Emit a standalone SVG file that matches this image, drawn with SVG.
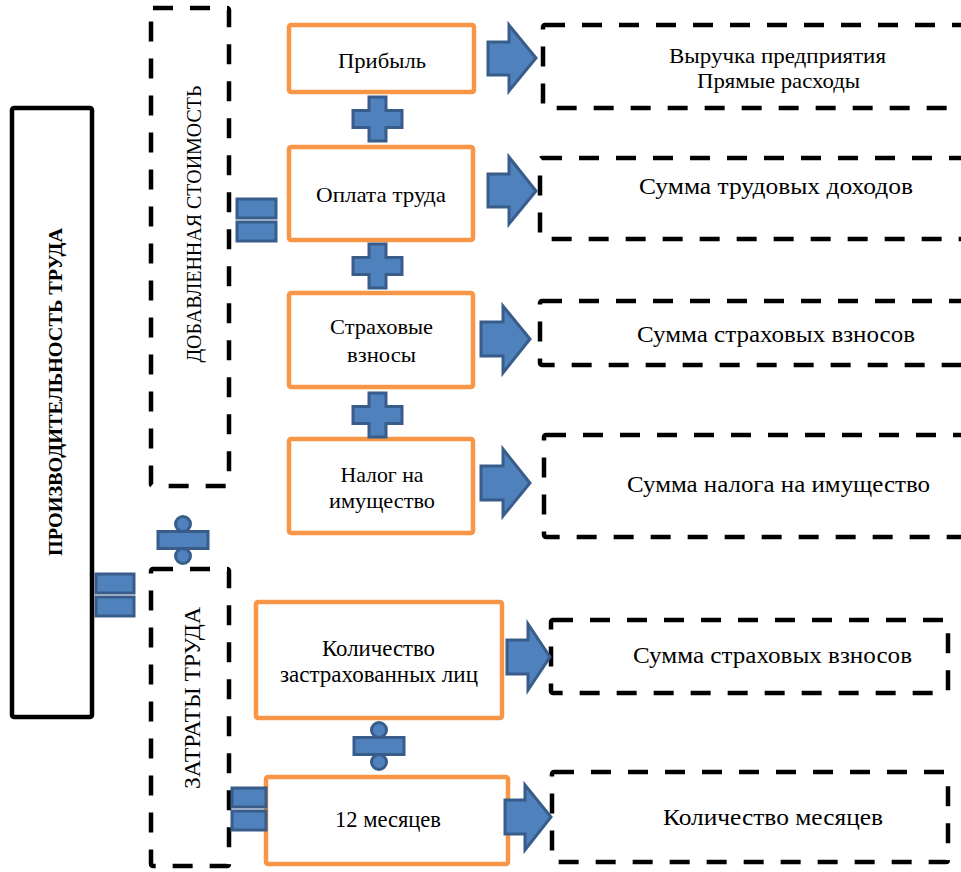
<svg xmlns="http://www.w3.org/2000/svg" width="961" height="872" viewBox="0 0 961 872">
<style>
.main{fill:#fff;stroke:#000;stroke-width:4.5}
.dash{fill:none;stroke:#000;stroke-width:4.5;stroke-dasharray:20 17}
.ob{fill:#fff;stroke:#F79646;stroke-width:4.5}
.bl{fill:#4F81BD;stroke:#385D8A;stroke-width:3}
.t{font-family:"Liberation Serif","Times New Roman",serif;fill:#000;text-anchor:middle}
</style>
<defs>
<path id="plus" class="bl" d="M-8.5,-22 H8.5 V-8.5 H24.5 V8.5 H8.5 V22 H-8.5 V8.5 H-24.5 V-8.5 H-8.5 Z"/>
<g id="div">
<rect class="bl" x="-25" y="-8.5" width="50" height="17"/>
<circle class="bl" cx="0" cy="-16" r="7.5"/>
<circle class="bl" cx="0" cy="16" r="7.5"/>
</g>
</defs>
<rect width="961" height="872" fill="#fff"/>

<g id="productivity">
<rect class="main" x="12" y="108" width="80" height="609" rx="2"/>
<text class="t" transform="translate(62,392) rotate(-90)" font-size="19" font-weight="bold" textLength="328" lengthAdjust="spacingAndGlyphs">ПРОИЗВОДИТЕЛЬНОСТЬ ТРУДА</text>
</g>

<g id="added-value">
<rect class="dash" x="151" y="8" width="78" height="478" rx="2"/>
<text class="t" transform="translate(201,224) rotate(-90)" font-size="21" textLength="277" lengthAdjust="spacingAndGlyphs">ДОБАВЛЕННАЯ СТОИМОСТЬ</text>
</g>

<g id="labor-costs">
<rect class="dash" x="151" y="569" width="78" height="297" rx="2"/>
<text class="t" transform="translate(200,698) rotate(-90)" font-size="23" textLength="182" lengthAdjust="spacingAndGlyphs">ЗАТРАТЫ ТРУДА</text>
</g>

<g id="profit">
<rect class="ob" x="289" y="25" width="185" height="67" rx="2"/>
<text class="t" x="382" y="68" font-size="22" textLength="88" lengthAdjust="spacingAndGlyphs">Прибыль</text>
</g>
<g id="wages">
<rect class="ob" x="289" y="147" width="184" height="93" rx="2"/>
<text class="t" x="381" y="202" font-size="22" textLength="130" lengthAdjust="spacingAndGlyphs">Оплата труда</text>
</g>
<g id="insurance">
<rect class="ob" x="289" y="293" width="184" height="94" rx="2"/>
<text class="t" x="381.5" y="334" font-size="22" textLength="103" lengthAdjust="spacingAndGlyphs">Страховые</text>
<text class="t" x="381.5" y="362" font-size="22" textLength="69" lengthAdjust="spacingAndGlyphs">взносы</text>
</g>
<g id="property-tax">
<rect class="ob" x="289" y="439" width="184" height="94" rx="2"/>
<text class="t" x="382" y="482" font-size="22" textLength="83" lengthAdjust="spacingAndGlyphs">Налог на</text>
<text class="t" x="382" y="508" font-size="22" textLength="106" lengthAdjust="spacingAndGlyphs">имущество</text>
</g>
<g id="insured-count">
<rect class="ob" x="256" y="602" width="246" height="116" rx="2"/>
<text class="t" x="378.5" y="656" font-size="23" textLength="113" lengthAdjust="spacingAndGlyphs">Количество</text>
<text class="t" x="379" y="682" font-size="23" textLength="198" lengthAdjust="spacingAndGlyphs">застрахованных лиц</text>
</g>
<g id="months12">
<rect class="ob" x="266" y="777" width="242" height="87" rx="2"/>
<text class="t" x="388" y="827" font-size="23" textLength="106" lengthAdjust="spacingAndGlyphs">12 месяцев</text>
</g>

<g id="src-revenue">
<rect class="dash" x="543" y="25" width="440" height="83" rx="2"/>
<text class="t" x="777.5" y="63" font-size="22" textLength="217" lengthAdjust="spacingAndGlyphs">Выручка предприятия</text>
<text class="t" x="778.5" y="88" font-size="22" textLength="163" lengthAdjust="spacingAndGlyphs">Прямые расходы</text>
</g>
<g id="src-wages">
<rect class="dash" x="540" y="158" width="440" height="81" rx="2"/>
<text class="t" x="776" y="194" font-size="24" textLength="274" lengthAdjust="spacingAndGlyphs">Сумма трудовых доходов</text>
</g>
<g id="src-insurance">
<rect class="dash" x="540" y="301" width="440" height="64" rx="2"/>
<text class="t" x="776" y="342" font-size="24" textLength="278" lengthAdjust="spacingAndGlyphs">Сумма страховых взносов</text>
</g>
<g id="src-tax">
<rect class="dash" x="544" y="435" width="440" height="102" rx="2"/>
<text class="t" x="778.5" y="492" font-size="24" textLength="303" lengthAdjust="spacingAndGlyphs">Сумма налога на имущество</text>
</g>
<g id="src-insured">
<rect class="dash" x="551" y="620" width="397" height="73" rx="2"/>
<text class="t" x="772.5" y="663" font-size="24" textLength="279" lengthAdjust="spacingAndGlyphs">Сумма страховых взносов</text>
</g>
<g id="src-months">
<rect class="dash" x="552" y="772" width="396" height="90" rx="2"/>
<text class="t" x="773" y="825" font-size="24" textLength="220" lengthAdjust="spacingAndGlyphs">Количество месяцев</text>
</g>

<g id="connectors">
<!-- equals signs -->
<rect class="bl" x="96" y="574" width="38" height="19"/>
<rect class="bl" x="96" y="597" width="38" height="19"/>
<rect class="bl" x="237" y="199" width="39" height="19"/>
<rect class="bl" x="237" y="222" width="39" height="19"/>
<rect class="bl" x="232" y="788" width="34" height="19"/>
<rect class="bl" x="232" y="811" width="34" height="19"/>
<!-- division signs -->
<use href="#div" x="183" y="540"/>
<use href="#div" x="379" y="746"/>
<!-- plus signs -->
<use href="#plus" x="377.5" y="119"/>
<use href="#plus" x="377.5" y="266"/>
<use href="#plus" x="377.5" y="415"/>
<!-- block arrows -->
<path class="bl" d="M488,42 H509 V25 L536,58 L509,91 V75 H488 Z"/>
<path class="bl" d="M488,174 H509 V157 L536,191 L509,224 V207 H488 Z"/>
<path class="bl" d="M481,322 H503 V306 L530,339 L503,373 V356 H481 Z"/>
<path class="bl" d="M481,466 H503 V449 L530,483 L503,516 V500 H481 Z"/>
<path class="bl" d="M507,640 H528 V624 L550,657 L528,690 V674 H507 Z"/>
<path class="bl" d="M505,800 H525 V785 L551,817 L525,850 V834 H505 Z"/>
</g>
</svg>
